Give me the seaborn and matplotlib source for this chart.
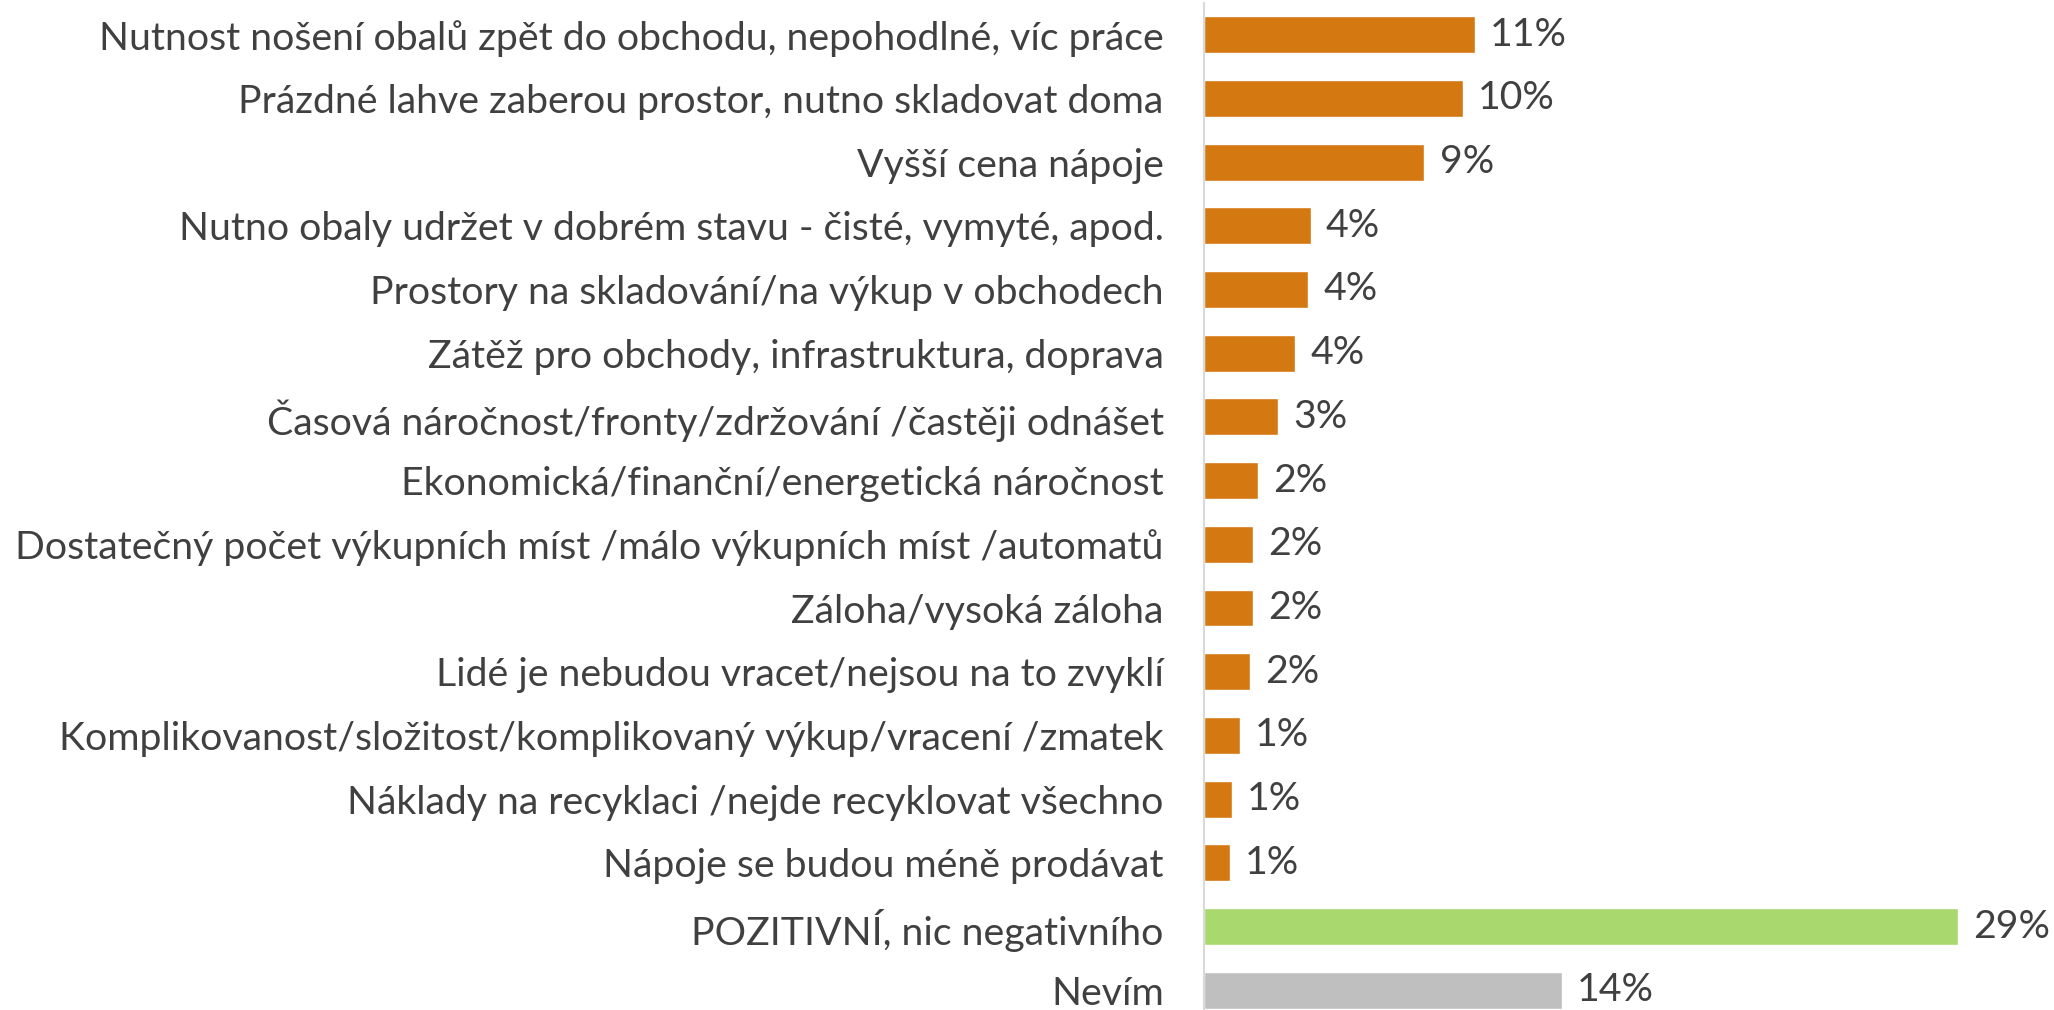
import matplotlib
matplotlib.use("Agg")
import matplotlib.pyplot as plt
import seaborn as sns
import pandas as pd

categories = [
    "Nutnost nošení obalů zpět do obchodu, nepohodlné, víc práce",
    "Prázdné lahve zaberou prostor, nutno skladovat doma",
    "Vyšší cena nápoje",
    "Nutno obaly udržet v dobrém stavu - čisté, vymyté, apod.",
    "Prostory na skladování/na výkup v obchodech",
    "Zátěž pro obchody, infrastruktura, doprava",
    "Časová náročnost/fronty/zdržování /častěji odnášet",
    "Ekonomická/finanční/energetická náročnost",
    "Dostatečný počet výkupních míst /málo výkupních míst /automatů",
    "Záloha/vysoká záloha",
    "Lidé je nebudou vracet/nejsou na to zvyklí",
    "Komplikovanost/složitost/komplikovaný výkup/vracení /zmatek",
    "Náklady na recyklaci /nejde recyklovat všechno",
    "Nápoje se budou méně prodávat",
    "POZITIVNÍ, nic negativního",
    "Nevím",
]
values = [10.54, 10.07, 8.57, 4.15, 4.06, 3.55, 2.87, 2.09, 1.89, 1.89, 1.79, 1.40, 1.09, 1.00, 29.34, 13.93]
value_labels = ["11%", "10%", "9%", "4%", "4%", "4%", "3%", "2%", "2%", "2%", "2%", "1%", "1%", "1%", "29%", "14%"]

ORANGE = "#D47812"
GREEN = "#A9D86E"
GREY = "#BFBFBF"
bar_colors = [ORANGE] * 14 + [GREEN, GREY]

df = pd.DataFrame({"cat": categories, "val": values})

sns.set_theme(style="white")
plt.rcParams["font.family"] = ["Lato", "DejaVu Sans"]
TEXT = "#404040"
FS = 28.3

W, H = 2054, 1010
fig = plt.figure(figsize=(W / 100, H / 100), dpi=100)
axis_x = 1204
kpx = 25.7  # px per percent
xmax = 30.0
top_px = 2.85
ax = fig.add_axes([axis_x / W, 0.0, xmax * kpx / W, 1 - top_px / H])

sns.barplot(data=df, y="cat", x="val", hue="cat", palette=bar_colors,
            legend=False, orient="h", width=0.58, ax=ax, saturation=1)

ax.set_xlim(0, xmax)
spacing = 63.7
ax.set_ylim(-0.5 + (H - top_px) / spacing, -0.5)

for i, cont in enumerate(ax.containers):
    ax.bar_label(cont, labels=[value_labels[i]], padding=11, fontsize=FS, color=TEXT)

ax.set_xlabel("")
ax.set_ylabel("")
ax.set_xticks([])
ax.tick_params(axis="y", length=0, pad=29, labelsize=FS, labelcolor=TEXT)
for s in ["top", "right", "bottom"]:
    ax.spines[s].set_visible(False)
ax.spines["left"].set_color("#D9D9D9")
ax.spines["left"].set_linewidth(1.5)

fig.savefig("out.png", dpi=100)
